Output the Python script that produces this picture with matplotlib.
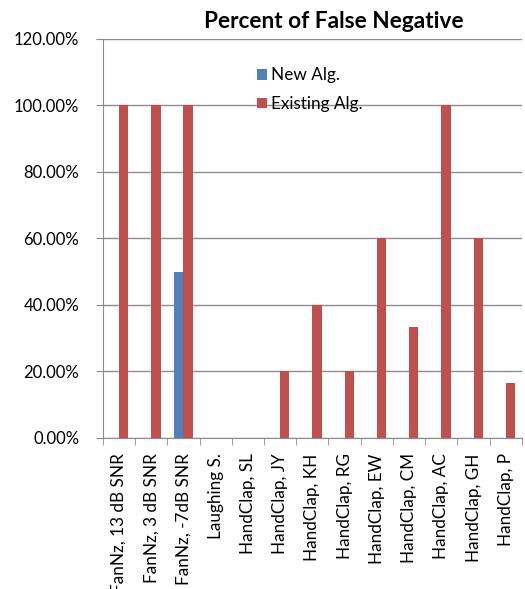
import matplotlib.pyplot as plt
import numpy as np
from matplotlib.ticker import FuncFormatter

plt.rcParams['font.family'] = ['Lato', 'DejaVu Sans']

categories = ['FanNz, 13 dB SNR', 'FanNz, 3 dB SNR', 'FanNz, -7dB SNR', 'Laughing S.',
              'HandClap, SL', 'HandClap, JY', 'HandClap, KH', 'HandClap, RG',
              'HandClap, EW', 'HandClap, CM', 'HandClap, AC', 'HandClap, GH', 'HandClap, P']
new_alg = [0, 0, 50, 0, 0, 0, 0, 0, 0, 0, 0, 0, 0]
existing_alg = [100, 100, 100, 0, 0, 20, 40, 20, 60, 33.33, 100, 60, 16.67]

fig = plt.figure(figsize=(5.25, 5.89), dpi=100)
ax = fig.add_axes([0.196, 0.2564, 0.798, 0.6774])

x = np.arange(len(categories))
w = 0.29
ax.bar(x - w / 2, new_alg, w, color='#4F81BD', label='New Alg.')
ax.bar(x + w / 2, existing_alg, w, color='#C0504D', label='Existing Alg.')

ax.set_xlim(-0.5, len(categories) - 0.5)
ax.set_ylim(0, 120)
ax.set_yticks(np.arange(0, 121, 20))
ax.yaxis.set_major_formatter(FuncFormatter(lambda v, p: f'{v:.2f}%'))
ax.yaxis.grid(True, color='#8c8c8c', linewidth=1)
ax.set_axisbelow(True)

ax.set_xticks(x)
ax.set_xticklabels(categories, rotation=90, fontsize=12.3, va='top')
ax.set_xticks(np.arange(-0.5, len(categories), 1), minor=True)
ax.tick_params(axis='x', which='major', length=0, pad=11)
ax.tick_params(axis='x', which='minor', length=5, color='#8c8c8c')
ax.tick_params(axis='y', length=5, color='#8c8c8c', labelsize=12, pad=12)

for s in ['top', 'right']:
    ax.spines[s].set_visible(False)
for s in ['left', 'bottom']:
    ax.spines[s].set_color('#8c8c8c')

fig.text(0.636, 0.963, 'Percent of False Negative', ha='center', va='center',
         fontsize=16.3, fontweight='bold')

fig.legend(loc='upper left', bbox_to_anchor=(0.46, 0.912), frameon=False,
           handlelength=0.6, handleheight=0.6, handletextpad=0.25,
           labelspacing=0.75, fontsize=12.3)

fig.savefig('out.png', dpi=100)
